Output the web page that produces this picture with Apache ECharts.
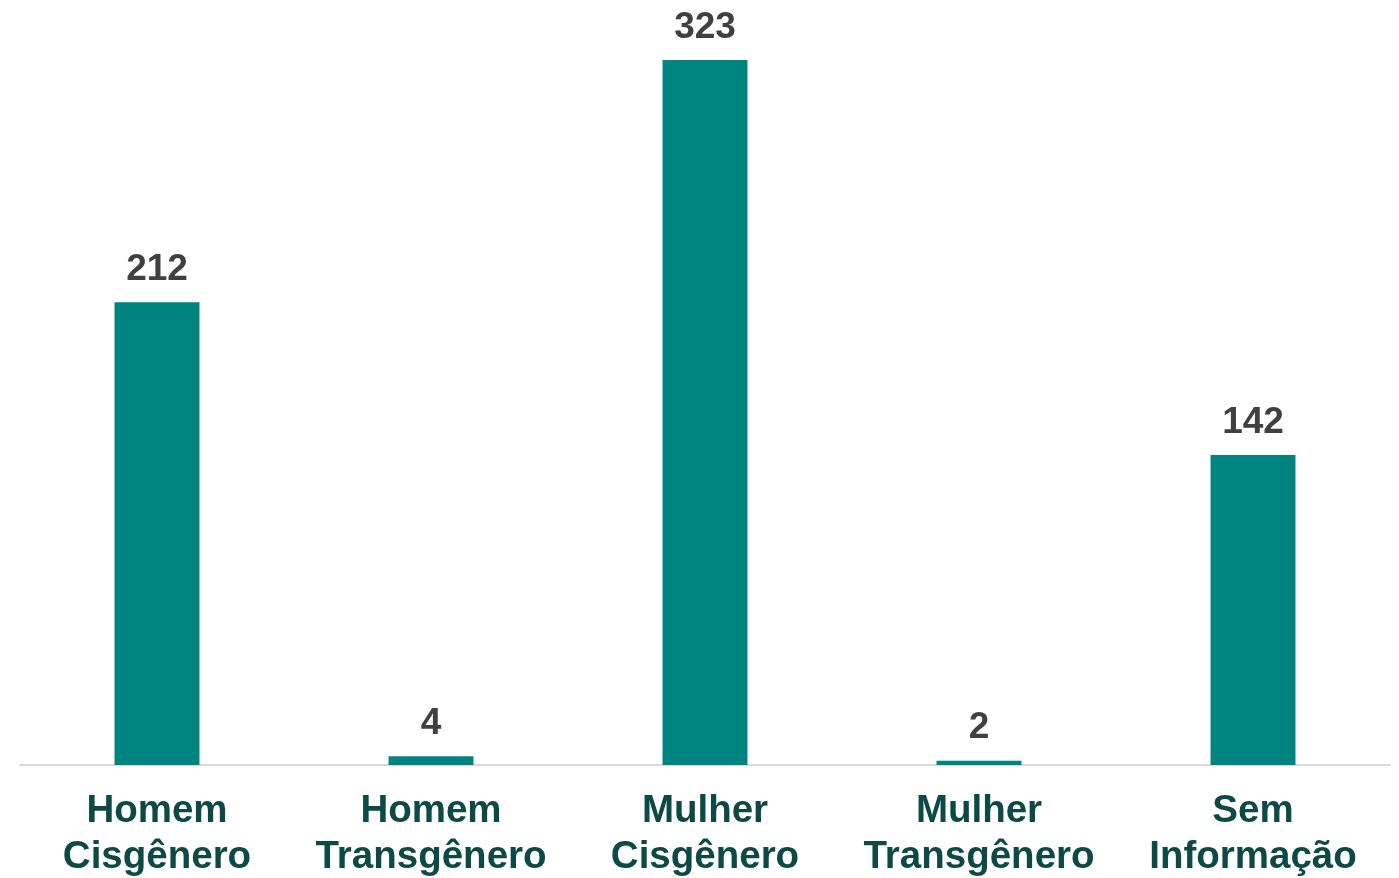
<!DOCTYPE html>
<html>
<head>
<meta charset="utf-8">
<script src="https://cdn.jsdelivr.net/npm/echarts@6/dist/echarts.min.js"></script>
<style>
  html, body { margin: 0; padding: 0; background: #fff; }
  #chart { width: 1399px; height: 878px; }
</style>
</head>
<body>
<div id="chart"></div>
<script>
const categories = ['Homem\nCisgênero', 'Homem\nTransgênero', 'Mulher\nCisgênero', 'Mulher\nTransgênero', 'Sem\nInformação']
const values = [212, 4, 323, 2, 142]

const chart = echarts.init(document.getElementById('chart'))
chart.setOption({
  animation: false,
  grid: { left: 20, right: 9, top: 60, bottom: 113, outerBoundsMode: 'none' },
  xAxis: {
    type: 'category',
    data: categories,
    axisLine: { lineStyle: { color: '#d9d9d9', width: 2 } },
    axisTick: { show: false },
    axisLabel: {
      interval: 0,
      margin: 23,
      fontFamily: 'Liberation Sans, Arial, sans-serif',
      fontWeight: 'bold',
      fontSize: 38.5,
      lineHeight: 46,
      color: '#0d4a45'
    }
  },
  yAxis: {
    type: 'value',
    min: 0,
    max: 323,
    show: false,
    splitLine: { show: false }
  },
  series: [{
    type: 'bar',
    data: values,
    barWidth: '31%',
    itemStyle: { color: '#008480' },
    label: {
      show: true,
      position: 'top',
      distance: 14,
      fontFamily: 'Liberation Sans, Arial, sans-serif',
      fontWeight: 'bold',
      fontSize: 37,
      color: '#404040'
    }
  }]
})
</script>
</body>
</html>
